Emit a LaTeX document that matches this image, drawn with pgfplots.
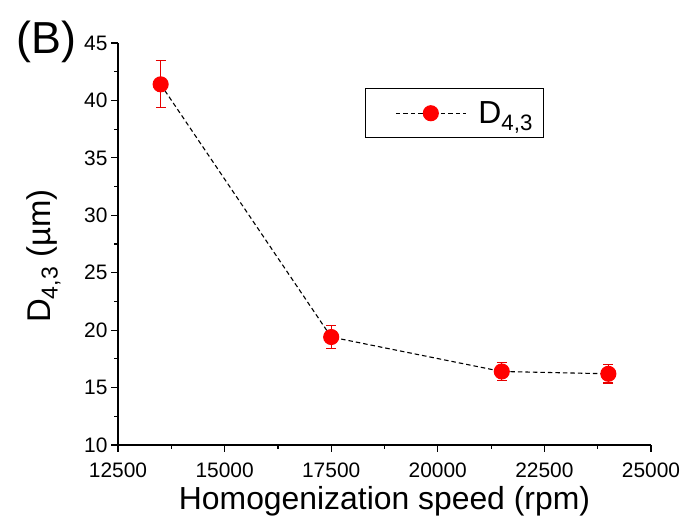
\documentclass[border=0pt]{standalone}
\usepackage{fontspec}
\setmainfont{Liberation Sans}
\usepackage{pgfplots}
\pgfplotsset{compat=1.18}
\begin{document}
\begin{tikzpicture}
\path[use as bounding box] (0,0) rectangle (683bp,527bp);
\node[anchor=north west, font=\fontsize{45}{48}\selectfont, inner sep=0pt] at (16bp,506bp) {(B)};
\begin{axis}[
  at={(118bp,82bp)}, anchor=south west,
  scale only axis, width=533bp, height=402bp,
  xmin=12500, xmax=25000, ymin=10, ymax=45,
  xtick={12500,15000,17500,20000,22500,25000},
  ytick={10,15,20,25,30,35,40,45},
  scaled ticks=false,
  minor x tick num=1, minor y tick num=1,
  axis x line=bottom, axis y line=left,
  axis line style={-, line width=1.2bp, black},
  tick align=outside, major tick length=7bp, minor tick length=4bp,
  every tick/.style={line width=1.2bp, black},
  ticklabel style={font=\fontsize{21}{24}\selectfont},
  xticklabel style={yshift=-7bp},
  /pgf/number format/assume math mode=true,
  /pgf/number format/1000 sep={},
  /pgf/number format/fixed,
  xlabel={Homogenization speed (rpm)},
  ylabel={D\textsubscript{4,3} (µm)},
  label style={font=\fontsize{32}{36}\selectfont},
  xlabel style={at={(axis description cs:0.5,-0.14)}, anchor=center},
  ylabel style={at={(axis description cs:-0.14,0.47)}, anchor=center, font=\fontsize{33}{36}\selectfont},
  legend style={at={(rel axis cs:0.463,0.888)}, anchor=north west,
    draw=black, line width=1bp, font=\fontsize{32}{36}\selectfont,
    inner xsep=8bp, inner ysep=10bp, nodes={inner sep=3bp}},
  legend image code/.code={
    \path (0bp,0bp) (101bp,0bp);
    \draw[#1, mark repeat=2, mark phase=2] plot coordinates {(22bp,0bp)(57bp,0bp)(92bp,0bp)};
  },
]
\addplot[black, line width=1.1bp, dash pattern=on 4.5bp off 3bp,
  mark=*, mark size=7.5bp, mark options={solid, fill=red, draw=red},
  error bars/.cd, y dir=both, y explicit,
  error bar style={red!90!black, line width=1.2bp, solid},
  error mark options={rotate=90, red!90!black, mark size=5bp, line width=1.2bp, solid}]
  table[x=x, y=y, y error=e] {
x y e
13500 41.4 2.05
17500 19.4 1.0
21500 16.4 0.8
24000 16.2 0.8
};
\addlegendentry{D\textsubscript{4,3}}
\end{axis}
\end{tikzpicture}
\end{document}
